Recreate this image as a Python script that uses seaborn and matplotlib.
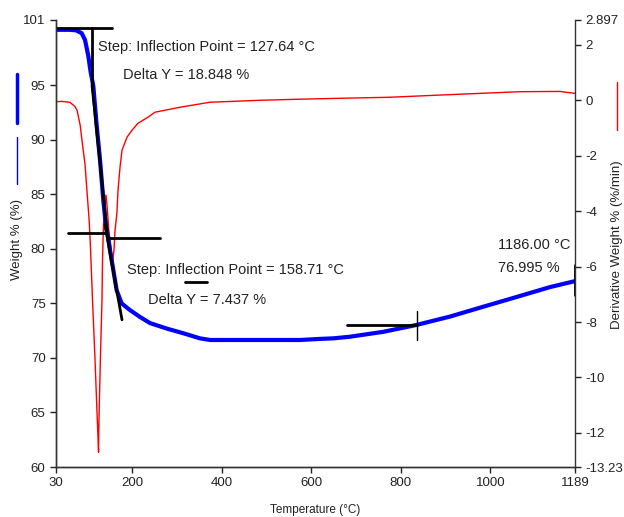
import matplotlib
matplotlib.use("Agg")
import matplotlib.pyplot as plt
from matplotlib.lines import Line2D
import pandas as pd
import seaborn as sns

# Weight curve (TGA)
temp_w = [30, 60, 75, 87.4, 94.8, 102.1, 107.5, 113.3, 120.9, 128.3, 135.6, 141.7,
          146.8, 150.6, 158, 165.5, 176.7, 195, 217.6, 240, 277, 314, 351.6, 374,
          450, 520, 575, 620, 649, 686.5, 761, 835, 910, 984, 1059, 1133, 1189]
weight = [100.1, 100.1, 100.05, 99.79, 99.17, 97.71, 96.19, 94.96, 91.29, 88.17, 84.5, 82.04,
          81.0, 79.9, 78.07, 76.2, 75.0, 74.4, 73.76, 73.2, 72.7, 72.27, 71.8, 71.65,
          71.65, 71.65, 71.65, 71.75, 71.8, 71.95, 72.4, 73.03, 73.8, 74.7, 75.6, 76.5, 77.05]

# Derivative curve (DTG)
temp_d = [30, 43, 61, 72, 77, 84, 88, 95, 99, 104, 107, 111.5, 117, 120.5, 124, 125,
          126, 129, 132.7, 133.8, 136, 139.4, 141.6, 144, 148, 153, 156.5, 159.5, 161.8,
          166, 168.5, 173, 177.4, 188.6, 199.7, 213, 235.4, 251, 307, 374, 485.5, 575,
          657, 776, 903, 1066, 1155, 1189]
deriv = [-0.05, -0.04, -0.07, -0.22, -0.36, -0.9, -1.44, -2.34, -3.24, -4.32, -5.3, -7.2,
         -9.3, -10.8, -12.25, -12.7, -11.5, -9.4, -7.2, -5.8, -4.5, -3.6, -3.42, -3.8,
         -4.7, -5.4, -5.8, -5.4, -4.7, -4.07, -3.24, -2.41, -1.8, -1.33, -1.08, -0.83,
         -0.61, -0.43, -0.25, -0.07, 0.0, 0.04, 0.07, 0.11, 0.2, 0.31, 0.32, 0.25]

x_ticks = [30, 200, 400, 600, 800, 1000, 1189]
left_ticks = [60, 65, 70, 75, 80, 85, 90, 95, 101]
right_ticks = [-13.23, -12, -10, -8, -6, -4, -2, 0, 2, 2.897]

# tangent / step analysis lines (T, weight)
step_lines = [
    ([30, 155], [100.3, 100.3]),
    ([110.4, 110.4], [100.3, 95.05]),
    ([110.4, 146], [95.05, 80.8]),
    ([139.4, 177.4], [82.2, 73.5]),
    ([56.8, 139.4], [81.47, 81.47]),
    ([146, 262], [81.0, 81.0]),
    ([318, 367], [77.0, 77.0]),
    ([680, 836], [73.0, 73.0]),
    ([1189, 1189], [78.5, 75.8]),
]
tick_line = ([836, 836], [74.3, 71.65])

sns.set_style("ticks")
plt.rcParams["font.family"] = ["Liberation Sans Narrow", "Liberation Sans", "DejaVu Sans"]

df_w = pd.DataFrame({"T": temp_w, "W": weight})
df_d = pd.DataFrame({"T": temp_d, "D": deriv})

fig = plt.figure(figsize=(6.24, 5.17), dpi=100)
ax = fig.add_axes([56 / 624, 50 / 517, (575 - 56) / 624, (467 - 20) / 517])
ax2 = ax.twinx()
ax.set_zorder(ax2.get_zorder() + 1)
ax.patch.set_visible(False)

sns.lineplot(data=df_d, x="T", y="D", ax=ax2, color="#ff0000", lw=1.0, estimator=None)
sns.lineplot(data=df_w, x="T", y="W", ax=ax, color="#0000ff", lw=3.0, estimator=None)

for xs, ys in step_lines:
    ax.plot(xs, ys, color="black", lw=2)
ax.plot(tick_line[0], tick_line[1], color="black", lw=1)

ax.set_xlim(30, 1189)
ax.set_ylim(60, 101)
ax2.set_ylim(-13.23, 2.897)
ax.set_xticks(x_ticks)
ax.set_yticks(left_ticks)
ax2.set_yticks(right_ticks)
ax2.set_yticklabels(["-13.23", "-12", "-10", "-8", "-6", "-4", "-2", "0", "2", "2.897"])

for a in (ax, ax2):
    a.set_xlabel("")
    a.set_ylabel("")
    a.spines["top"].set_visible(False)
    for s in a.spines.values():
        s.set_color("#333333")
        s.set_linewidth(1.0)
    a.tick_params(direction="out", length=4, width=1, labelsize=9.5, colors="#222222")
ax.spines["right"].set_visible(False)

txt = dict(fontsize=10.5, color="#222222", va="center", ha="left")
ax.text(123.8, 98.53, "Step: Inflection Point = 127.64 °C", **txt)
ax.text(179.6, 95.96, "Delta Y = 18.848 %", **txt)
ax.text(188.5, 78.07, "Step: Inflection Point = 158.71 °C", **txt)
ax.text(235.4, 75.3, "Delta Y = 7.437 %", **txt)
ax.text(1017, 80.37, "1186.00 °C", **txt)
ax.text(1017, 78.26, "76.995 %", **txt)

fig.text(315 / 624, 1 - 510 / 517, "Temperature (°C)", fontsize=8.5, ha="center", va="center", color="#222222")
fig.text(17 / 624, 1 - 240 / 517, "Weight % (%)", fontsize=9.5, rotation=90, ha="center", va="center", color="#222222")
fig.text(617 / 624, 1 - 245 / 517, "Derivative Weight % (%/min)", fontsize=9.5, rotation=90, ha="center", va="center", color="#222222")

# legend swatches next to the axis titles
fig.add_artist(Line2D([17 / 624, 17 / 624], [1 - 74 / 517, 1 - 123 / 517], color="#0000ff", lw=2.5))
fig.add_artist(Line2D([17 / 624, 17 / 624], [1 - 137 / 517, 1 - 184 / 517], color="#0000ff", lw=1))
fig.add_artist(Line2D([617 / 624, 617 / 624], [1 - 82 / 517, 1 - 130 / 517], color="#ff0000", lw=1))

fig.savefig("out.png", dpi=100)
